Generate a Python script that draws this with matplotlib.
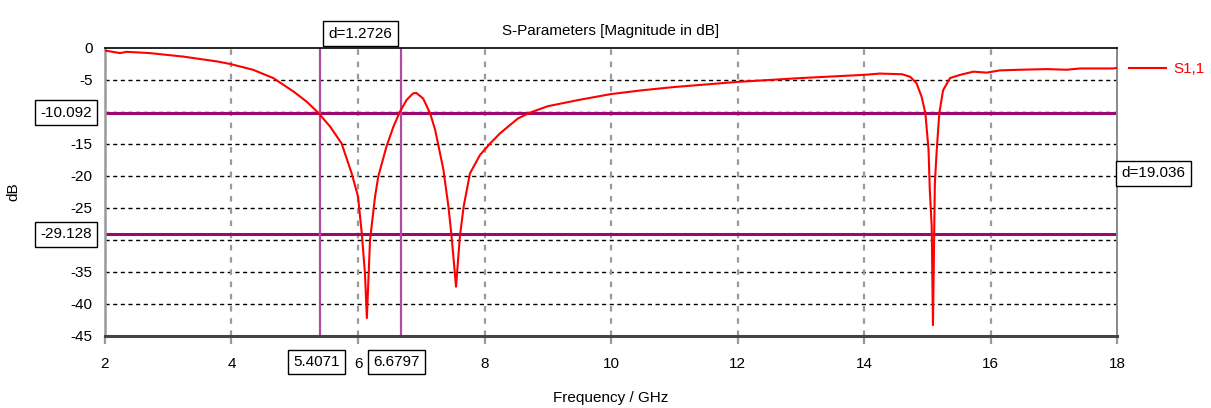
import matplotlib
matplotlib.use("Agg")
import matplotlib.pyplot as plt
from matplotlib.transforms import blended_transform_factory

plt.rcParams['font.family'] = ['Liberation Sans', 'DejaVu Sans']

# S1,1 magnitude (dB)
freq = [2.0, 2.24, 2.34, 2.71, 3.24, 3.77, 3.98, 4.34, 4.66, 4.98, 5.19, 5.37,
        5.56, 5.74, 5.9, 6.0, 6.06, 6.11, 6.14, 6.19, 6.27, 6.32, 6.45, 6.56,
        6.66, 6.77, 6.87, 6.92, 7.03, 7.14, 7.22, 7.35, 7.43, 7.48, 7.55, 7.61,
        7.67, 7.77, 7.93, 8.09, 8.25, 8.53, 8.72, 9.0, 9.5, 10.0, 10.5, 11.0,
        11.5, 12.0, 12.5, 13.0, 13.5, 14.0, 14.25, 14.6, 14.73, 14.83, 14.91,
        14.97, 15.02, 15.04, 15.07, 15.09, 15.12, 15.15, 15.19, 15.25, 15.36,
        15.52, 15.73, 15.94, 16.15, 16.47, 16.89, 17.2, 17.42, 17.94, 18.0]
s11 = [-0.4, -0.8, -0.6, -0.8, -1.35, -2.1, -2.5, -3.4, -4.7, -6.8, -8.4, -10.1,
       -12.3, -14.9, -19.6, -23.2, -29.0, -35.2, -42.2, -30.0, -23.2, -20.1, -15.4, -12.3,
       -10.0, -8.1, -7.1, -7.0, -7.9, -10.2, -12.8, -19.0, -24.8, -29.5, -37.3, -29.5,
       -24.8, -19.6, -16.7, -14.9, -13.3, -11.0, -10.1, -9.1, -8.1, -7.2, -6.6, -6.1,
       -5.7, -5.3, -5.0, -4.7, -4.45, -4.2, -4.0, -4.1, -4.5, -5.5, -7.6,
       -10.2, -15.9, -22.2, -27.9, -43.3, -21.1, -15.9, -10.2, -6.6, -4.7,
       -4.2, -3.7, -3.85, -3.5, -3.4, -3.3, -3.4, -3.2, -3.2, -3.1]

x_markers = [5.4071, 6.6797]
y_markers = [-10.092, -29.128]
x_ticks = [2, 4, 6, 8, 10, 12, 14, 16, 18]
y_ticks = [0, -5, -10, -15, -20, -25, -30, -35, -40, -45]

mark_col = '#9a0a6e'
vmark_col = '#b24aa2'
fs = 11

fig = plt.figure(figsize=(12.11, 4.08), dpi=100)
ax = fig.add_axes([0.0867, 0.1765, 0.8357, 0.7059])

ax.set_xlim(2, 18)
ax.set_ylim(-45, 0)
ax.set_xticks(x_ticks)
ax.set_yticks(y_ticks)
ax.set_yticklabels([str(v) if v not in (-10, -30) else '' for v in y_ticks])
ax.set_xticklabels([str(v) for v in x_ticks])

# grid
for y in y_ticks[1:-1]:
    ax.axhline(y, color='black', lw=1, ls=(0, (3, 2.5)), zorder=1)
for x in x_ticks[1:-1]:
    ax.axvline(x, color='#9a9a9a', lw=1.6, ls=(0, (2.5, 3)), zorder=1)

# markers
for y in y_markers:
    ax.axhline(y, color=mark_col, lw=2.2, zorder=2)
for x in x_markers:
    ax.axvline(x, color=vmark_col, lw=1.6, zorder=2)

ax.plot(freq, s11, color='red', lw=1.5, zorder=3, label='S1,1')

ax.spines['top'].set_color('black')
ax.spines['top'].set_linewidth(1.2)
ax.spines['bottom'].set_color('#444444')
ax.spines['bottom'].set_linewidth(2.2)
ax.spines['left'].set_color('#999999')
ax.spines['left'].set_linewidth(1.8)
ax.spines['right'].set_color('#888888')
ax.spines['right'].set_linewidth(1.4)

ax.tick_params(axis='x', length=6, width=1.6, color='#999999', labelsize=fs, pad=9)
ax.tick_params(axis='y', length=0, labelsize=fs, pad=9)

ax.set_title('S-Parameters [Magnitude in dB]', fontsize=fs, pad=9)
ax.set_xlabel('Frequency / GHz', fontsize=fs, va='top')
ax.xaxis.set_label_coords(0.5, -0.19)
ax.set_ylabel('dB', fontsize=fs)
ax.yaxis.set_label_coords(-0.084, 0.5)

box = dict(boxstyle='square,pad=0.35', fc='white', ec='black', lw=1)
ty = blended_transform_factory(ax.transAxes, ax.transData)
tx = blended_transform_factory(ax.transData, ax.transAxes)

for y in y_markers:
    ax.text(-0.0385, y, '%.3f' % y, transform=ty, ha='center', va='center',
            fontsize=fs, bbox=box, clip_on=False)
ax.text(1.0045, (y_markers[0] + y_markers[1]) / 2,
        'd=%.3f' % (y_markers[0] - y_markers[1]), transform=ty, ha='left',
        va='center', fontsize=fs, bbox=box, clip_on=False)
ax.text((x_markers[0] + x_markers[1]) / 2, 1.05,
        'd=%.4f' % (x_markers[1] - x_markers[0]), transform=tx, ha='center',
        va='center', fontsize=fs, bbox=box, clip_on=False)
for x in x_markers:
    ax.annotate('%.4f' % x, xy=(x, -0.09), xycoords=tx, xytext=(-3, 0),
                textcoords='offset points', ha='center', va='center',
                fontsize=fs, bbox=box, annotation_clip=False)

leg = ax.legend(loc='center left', bbox_to_anchor=(1.012, 0.927), frameon=False,
                handlelength=2.4, handletextpad=0.5, fontsize=fs, borderaxespad=0,
                borderpad=0)
for t in leg.get_texts():
    t.set_color('red')

fig.savefig('out.png', dpi=100)
